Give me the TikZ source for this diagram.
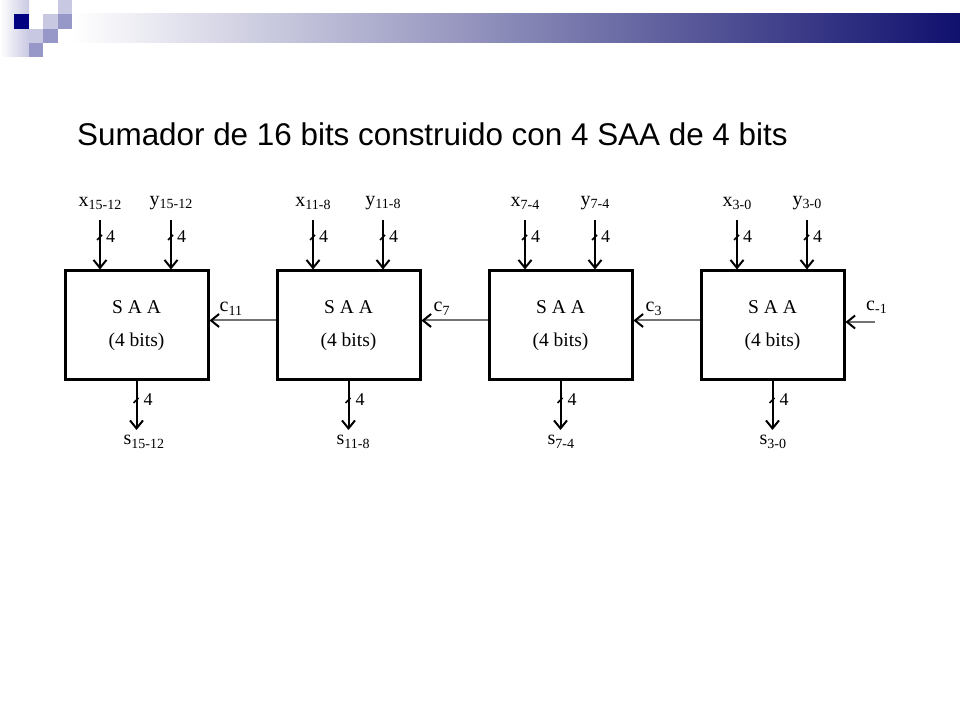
\documentclass[tikz,border=0pt]{standalone}
\usepackage{fontspec}
\setmainfont{Liberation Serif}
\newfontfamily\titlefont{Liberation Sans}
\usetikzlibrary{arrows.meta}
\definecolor{hdnavy}{RGB}{16,16,110}
\definecolor{hdmid}{RGB}{204,204,218}
\definecolor{sqlight}{RGB}{200,200,226}
\definecolor{sqmid}{RGB}{152,152,200}
\definecolor{sqdark}{RGB}{0,0,128}
\newcommand{\lowsub}[1]{\raisebox{-3.5pt}{\fontsize{14}{14}\selectfont #1}}

\begin{document}
\begin{tikzpicture}[x=1pt, y=1pt,
  saa/.style={draw, line width=3pt, minimum width=143pt, minimum height=109pt, align=center, font=\fontsize{19.5}{33}\selectfont},
  lbl/.style={inner sep=0pt, font=\fontsize{20}{21}\selectfont},
  num/.style={anchor=west, inner sep=0pt, font=\fontsize{18}{19}\selectfont},
  bus/.style={line width=2pt, -{Straight Barb[length=8pt,width=13pt]}},
  carry/.style={line width=2pt, black!55, -{Straight Barb[length=8pt,width=13pt,black]}},
  tick/.style={line width=1.6pt}]

\fill[white] (0,0) rectangle (960,720);
\useasboundingbox (0,0) rectangle (960,720);

\shade[left color=white, right color=sqlight] (0,720) rectangle (29,663);
\shade[left color=white, middle color=hdmid, right color=hdnavy] (72,706) rectangle (960,677);
\fill[sqdark] (14,706) rectangle (29,691);
\fill[sqlight] (58,720) rectangle (72,706);
\fill[sqlight] (43,706) rectangle (58,691);
\fill[sqmid] (58,706) rectangle (72,691);
\fill[sqlight] (29,691) rectangle (43,677);
\fill[sqmid] (43,691) rectangle (58,677);
\fill[sqmid] (29,677) rectangle (43,663);

\node[anchor=base west, inner sep=0pt, font=\titlefont\fontsize{31.4}{36}\selectfont] (title) at (77,574) {Sumador de 16 bits construido con 4 SAA de 4 bits};

\node[saa] (b1) at (136.5,394.5) {S A A\\(4 bits)};
\node[saa] (b2) at (348.5,394.5) {S A A\\(4 bits)};
\node[saa] (b3) at (560.5,394.5) {S A A\\(4 bits)};
\node[saa] (b4) at (772.5,394.5) {S A A\\(4 bits)};

\node[lbl, anchor=south] (x1) at (100,510) {x\lowsub{15-12}};
\node[lbl, anchor=south] (y1) at (171,510) {y\lowsub{15-12}};
\node[lbl, anchor=south] (x2) at (313,510) {x\lowsub{11-8}};
\node[lbl, anchor=south] (y2) at (383,510) {y\lowsub{11-8}};
\node[lbl, anchor=south] (x3) at (525,510) {x\lowsub{7-4}};
\node[lbl, anchor=south] (y3) at (595,510) {y\lowsub{7-4}};
\node[lbl, anchor=south] (x4) at (737,510) {x\lowsub{3-0}};
\node[lbl, anchor=south] (y4) at (807,510) {y\lowsub{3-0}};

\draw[bus, shorten <=10pt] (x1.south) to (x1.south |- b1.north);
\draw[bus, shorten <=10pt] (y1.south) to (y1.south |- b1.north);
\draw[bus, shorten <=10pt] (x2.south) to (x2.south |- b2.north);
\draw[bus, shorten <=10pt] (y2.south) to (y2.south |- b2.north);
\draw[bus, shorten <=10pt] (x3.south) to (x3.south |- b3.north);
\draw[bus, shorten <=10pt] (y3.south) to (y3.south |- b3.north);
\draw[bus, shorten <=10pt] (x4.south) to (x4.south |- b4.north);
\draw[bus, shorten <=10pt] (y4.south) to (y4.south |- b4.north);

\node[num] (nx1) at (106,483) {4};
\node[num] (ny1) at (177,483) {4};
\node[num] (nx2) at (319,483) {4};
\node[num] (ny2) at (389,483) {4};
\node[num] (nx3) at (531,483) {4};
\node[num] (ny3) at (601,483) {4};
\node[num] (nx4) at (743,483) {4};
\node[num] (ny4) at (813,483) {4};

\draw[tick] ([shift={(-9,-3)}]nx1.west) -- ([shift={(-4,2)}]nx1.west);
\draw[tick] ([shift={(-9,-3)}]ny1.west) -- ([shift={(-4,2)}]ny1.west);
\draw[tick] ([shift={(-9,-3)}]nx2.west) -- ([shift={(-4,2)}]nx2.west);
\draw[tick] ([shift={(-9,-3)}]ny2.west) -- ([shift={(-4,2)}]ny2.west);
\draw[tick] ([shift={(-9,-3)}]nx3.west) -- ([shift={(-4,2)}]nx3.west);
\draw[tick] ([shift={(-9,-3)}]ny3.west) -- ([shift={(-4,2)}]ny3.west);
\draw[tick] ([shift={(-9,-3)}]nx4.west) -- ([shift={(-4,2)}]nx4.west);
\draw[tick] ([shift={(-9,-3)}]ny4.west) -- ([shift={(-4,2)}]ny4.west);

\coordinate (o1) at (136.5,290);
\coordinate (o2) at (348.5,290);
\coordinate (o3) at (560.5,290);
\coordinate (o4) at (772.5,290);

\draw[bus] (b1.south) to (o1);
\draw[bus] (b2.south) to (o2);
\draw[bus] (b3.south) to (o3);
\draw[bus] (b4.south) to (o4);

\node[lbl, anchor=north west] (s1) at (123.5,285) {s\lowsub{15-12}};
\node[lbl, anchor=north west] (s2) at (336.5,285) {s\lowsub{11-8}};
\node[lbl, anchor=north west] (s3) at (547.5,285) {s\lowsub{7-4}};
\node[lbl, anchor=north west] (s4) at (759.5,285) {s\lowsub{3-0}};

\node[num] (no1) at (143.5,320) {4};
\node[num] (no2) at (355.5,320) {4};
\node[num] (no3) at (567.5,320) {4};
\node[num] (no4) at (779.5,320) {4};

\draw[tick] ([shift={(-10,-3)}]no1.west) -- ([shift={(-5,2)}]no1.west);
\draw[tick] ([shift={(-10,-3)}]no2.west) -- ([shift={(-5,2)}]no2.west);
\draw[tick] ([shift={(-10,-3)}]no3.west) -- ([shift={(-5,2)}]no3.west);
\draw[tick] ([shift={(-10,-3)}]no4.west) -- ([shift={(-5,2)}]no4.west);

\coordinate (cin) at (875,398);
\draw[carry] (cin) to ([yshift=3.5pt]b4.east);
\draw[carry] ([yshift=5pt]b4.west) to ([yshift=5pt]b3.east);
\draw[carry] ([yshift=5pt]b3.west) to ([yshift=5pt]b2.east);
\draw[carry] ([yshift=5pt]b2.west) to ([yshift=5pt]b1.east);

\node[lbl, anchor=south west] (c11) at ([xshift=10pt,yshift=10pt]b1.east) {c\lowsub{11}};
\node[lbl, anchor=south west] (c7) at ([xshift=12pt,yshift=10pt]b2.east) {c\lowsub{7}};
\node[lbl, anchor=south west] (c3) at ([xshift=12pt,yshift=10pt]b3.east) {c\lowsub{3}};
\node[lbl, anchor=south west] (cm1) at (866,406) {c\lowsub{-1}};
\end{tikzpicture}
\end{document}
